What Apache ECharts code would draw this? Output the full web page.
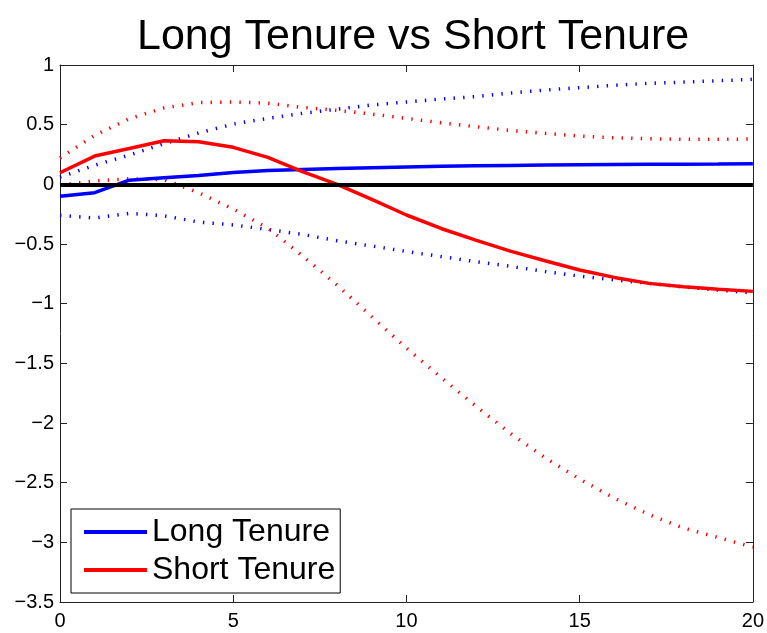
<!DOCTYPE html>
<html>
<head>
<meta charset="utf-8">
<script src="https://cdn.jsdelivr.net/npm/echarts@6/dist/echarts.min.js"></script>
<style>
  html, body { margin: 0; padding: 0; background: #fff; }
  #chart { width: 767px; height: 633px; }
</style>
</head>
<body>
<div id="chart"></div>
<script>
// horizon steps on the x axis
const steps = [0, 1, 2, 3, 4, 5, 6, 7, 8, 9, 10, 11, 12, 13, 14, 15, 16, 17, 18, 19, 20];

// long tenure response and its bands
const longMean  = [-0.10, -0.07, 0.035, 0.055, 0.075, 0.10, 0.115, 0.125, 0.133, 0.14, 0.146, 0.151, 0.155, 0.158, 0.161, 0.164, 0.166, 0.168, 0.169, 0.170, 0.172];
const longUpper = [0.06, 0.16, 0.245, 0.34, 0.43, 0.505, 0.553, 0.595, 0.63, 0.665, 0.69, 0.715, 0.735, 0.765, 0.79, 0.81, 0.83, 0.846, 0.857, 0.868, 0.88];
const longLower = [-0.26, -0.282, -0.243, -0.263, -0.316, -0.34, -0.378, -0.42, -0.473, -0.517, -0.563, -0.605, -0.648, -0.687, -0.73, -0.77, -0.80, -0.83, -0.86, -0.886, -0.91];

// short tenure response and its bands
const shortMean  = [0.097, 0.237, 0.30, 0.365, 0.357, 0.31, 0.226, 0.106, 0.0, -0.126, -0.257, -0.37, -0.467, -0.56, -0.64, -0.718, -0.78, -0.83, -0.858, -0.88, -0.897];
const shortUpper = [0.22, 0.41, 0.55, 0.64, 0.685, 0.69, 0.68, 0.645, 0.62, 0.589, 0.553, 0.516, 0.483, 0.452, 0.427, 0.405, 0.39, 0.382, 0.377, 0.377, 0.38];
const shortLower = [-0.006, 0.028, 0.047, 0.04, -0.07, -0.207, -0.366, -0.6, -0.844, -1.11, -1.372, -1.618, -1.858, -2.087, -2.29, -2.47, -2.63, -2.767, -2.88, -2.96, -3.04];

const seriesNames = ['Long Tenure', 'Short Tenure'];
const FONT = '"Liberation Sans", Arial, Helvetica, sans-serif';

function pairs(vals) {
  return steps.map((s, i) => [s, vals[i]]);
}

function dotted(vals, color) {
  return {
    type: 'line', data: pairs(vals), symbol: 'none', silent: true, z: 2,
    lineStyle: { color: color, width: 3.5, type: [1.4, 8.2], cap: 'butt' }
  };
}

function solid(name, vals, color, z) {
  return {
    name: name, type: 'line', data: pairs(vals), symbol: 'none', z: z,
    color: color,
    lineStyle: { color: color, width: 3.5 }
  };
}

const minus = v => String(v).replace('-', '\u2212');

let chart = echarts.init(document.getElementById('chart'), null, { renderer: 'canvas' });

// matlab style box: axis lines on all four sides, ticks pointing in
function boxAxis(extra) {
  return Object.assign({
    axisLine: { show: true, onZero: false, lineStyle: { color: '#222', width: 1 } },
    axisTick: { show: true, inside: true, length: 7, lineStyle: { color: '#222' } },
    splitLine: { show: false }
  }, extra);
}

chart.setOption({
  animation: false,
  backgroundColor: '#fff',
  title: {
    text: 'Long Tenure vs Short Tenure',
    left: 132, top: 11,
    textStyle: { fontFamily: FONT, fontSize: 43, fontWeight: 'normal', color: '#000' }
  },
  grid: { left: 60, right: 12, top: 65, bottom: 31 },
  legend: {
    orient: 'vertical',
    left: 71, top: 509,
    data: seriesNames,
    icon: 'rect',
    itemWidth: 63, itemHeight: 4,
    itemGap: 6,
    itemTextGap: 9,
    padding: [7, 5, 7, 13],
    borderColor: '#000', borderWidth: 1,
    backgroundColor: '#fff',
    textStyle: { fontFamily: FONT, fontSize: 32, color: '#000', lineHeight: 32 },
    z: 10
  },
  xAxis: [
    boxAxis({
      type: 'value', min: 0, max: 20, interval: 5, position: 'bottom',
      axisLabel: { fontFamily: FONT, fontSize: 20, color: '#000', margin: 9 }
    }),
    boxAxis({
      type: 'value', min: 0, max: 20, interval: 5, position: 'top',
      axisLabel: { show: false }
    })
  ],
  yAxis: [
    boxAxis({
      type: 'value', min: -3.5, max: 1, interval: 0.5, position: 'left',
      axisLabel: { fontFamily: FONT, fontSize: 20, color: '#000', margin: 6, formatter: minus }
    }),
    boxAxis({
      type: 'value', min: -3.5, max: 1, interval: 0.5, position: 'right',
      axisLabel: { show: false }
    })
  ],
  series: [
    dotted(longUpper, '#0000ff'),
    dotted(longLower, '#0000ff'),
    dotted(shortUpper, '#ff0000'),
    dotted(shortLower, '#ff0000'),
    solid(seriesNames[0], longMean, '#0000ff', 3),
    solid(seriesNames[1], shortMean, '#ff0000', 4),
    {
      type: 'line', data: [], z: 5, silent: true,
      markLine: {
        silent: true, symbol: 'none', label: { show: false },
        lineStyle: { color: '#000', width: 4, type: 'solid' },
        data: [{ yAxis: 0 }]
      }
    }
  ]
});
</script>
</body>
</html>
